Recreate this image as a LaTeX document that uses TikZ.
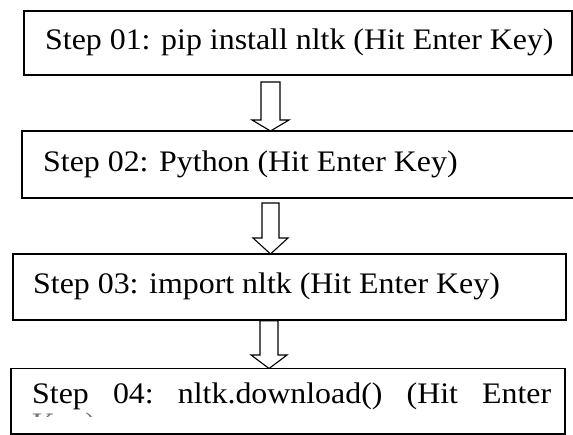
\documentclass[tikz,border=0pt]{standalone}
\usepackage{fontspec}
\setmainfont{Liberation Serif}[FakeStretch=1.07]
\newcommand\hollowdownarrow[5]{% left, right, top, head start, tip
  \draw[flowarrow] (#1,#3) -- (#2,#3) -- (#2,#4) -- ({#2+9},#4)
    -- ({(#1+#2)/2},#5) -- ({#1-9},#4) -- (#1,#4) -- cycle;}
\begin{document}
\begin{tikzpicture}[x=1pt,y=-1pt,
  stepbox/.style={draw=black,line width=1.7pt,fill=none},
  steptext/.style={anchor=base west,inner sep=0pt,font=\fontsize{29.8}{35}\selectfont},
  flowarrow/.style={draw=black,line width=1.1pt,fill=white,line join=miter}]
\useasboundingbox (0,0) rectangle (573,435);

% step boxes
\draw[stepbox] (24,10.7) rectangle (572,75);
\draw[stepbox] (22,131) rectangle (585,198);
\draw[stepbox] (13,254) rectangle (566,320);
\draw[stepbox] (11,368.5) rectangle (565,434);

% step texts
\node[steptext] (t1) at (45,50) {Step 01: pip install nltk (Hit Enter Key)};
\node[steptext] (t2) at (43,172) {Step 02: Python (Hit Enter Key)};
\node[steptext] (t3) at (33,294) {Step 03: import nltk (Hit Enter Key)};
\node[steptext] (t4) at (32,404) {\hbox to 519pt{Step\hfill 04:\hfill nltk.download()\hfill (Hit\hfill Enter}};
% the wrapped remainder of step 04, cut off by the box
\begin{scope}
  \clip (11,413) rectangle (565,416.5);
  \node[steptext,text=black!55] (t4b) at (32,434) {Key)};
\end{scope}

% hollow down arrows between the steps
\hollowdownarrow{261}{280}{82}{120}{131}
\hollowdownarrow{262}{279}{203}{238}{254}
\hollowdownarrow{260}{278}{320.8}{355}{368.5}
\end{tikzpicture}
\end{document}
